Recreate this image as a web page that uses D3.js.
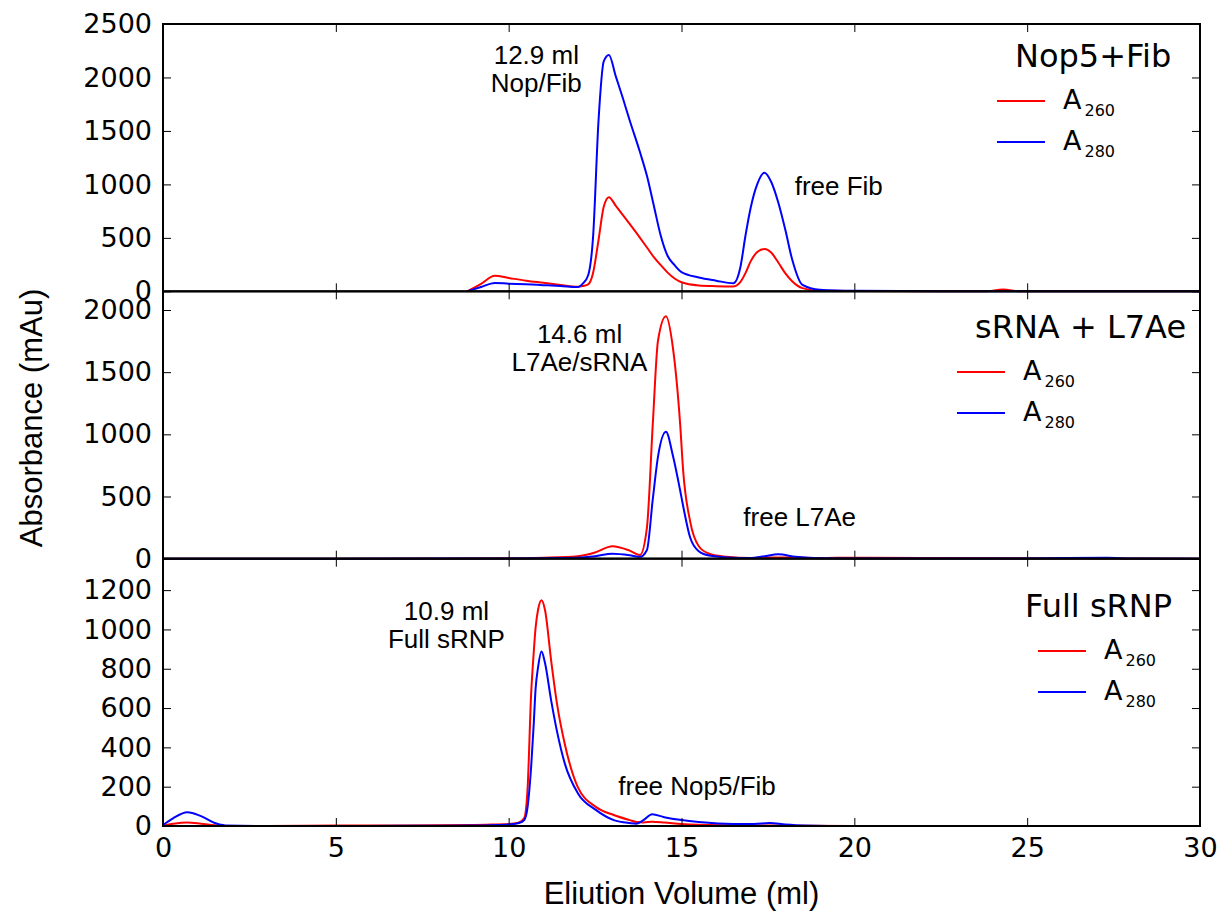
<!DOCTYPE html>
<html>
<head>
<meta charset="utf-8">
<script src="https://cdn.jsdelivr.net/npm/d3@7"></script>
<style>
  body { margin: 0; background: #fff; }
  svg { display: block; }
  .tick text { font-family: "DejaVu Sans", sans-serif; font-size: 27px; fill: #000; }
  .tick line { stroke: #000; stroke-width: 1; }
  .note { font-family: "Liberation Sans", Arial, sans-serif; font-size: 26px; fill: #000; }
  .axis-label { font-family: "Liberation Sans", Arial, sans-serif; font-size: 31px; fill: #000; }
  .legend { font-family: "DejaVu Sans", sans-serif; fill: #000; }
</style>
</head>
<body>
<svg id="chart"></svg>
<script>
// Nop5 + Fib run
const nopFibVol  = [8.8, 9.2, 9.6, 10.0, 10.5, 11.0, 11.5, 12.0, 12.15, 12.3, 12.44, 12.6, 12.75, 12.9, 13.1, 13.3, 13.5, 13.8, 14.0, 14.2, 14.4, 14.6, 14.8, 15.0, 15.5, 16.0, 16.5, 16.7, 16.85, 17.0, 17.2, 17.4, 17.6, 17.8, 18.0, 18.2, 18.5, 19.0, 20.0, 23.8, 24.3, 24.8, 30];
const nopFibA260 = [0, 70, 145, 125, 100, 80, 60, 42, 50, 65, 170, 480, 790, 880, 800, 715, 630, 500, 410, 320, 245, 175, 120, 85, 55, 48, 45, 85, 170, 280, 370, 395, 360, 270, 170, 95, 30, 5, 2, 0, 18, 0, 0];
const nopFibA280 = [0, 40, 78, 72, 66, 58, 50, 40, 75, 150, 500, 1600, 2150, 2210, 2010, 1810, 1600, 1300, 1080, 800, 520, 330, 245, 180, 130, 100, 75, 220, 520, 780, 1010, 1110, 1020, 830, 580, 300, 60, 15, 5, 0, 0, 0, 0];

// sRNA + L7Ae run
const l7aeVol  = [0, 5, 10, 11, 12, 12.5, 13.0, 13.5, 13.8, 14.0, 14.17, 14.32, 14.55, 14.75, 14.96, 15.05, 15.25, 15.5, 15.8, 16.3, 17.0, 17.4, 17.8, 18.3, 19.0, 20, 22, 25, 27.3, 27.8, 30];
const l7aeA260 = [0, 0, 3, 8, 20, 50, 100, 65, 30, 250, 1086, 1754, 1950, 1700, 1086, 700, 300, 100, 40, 15, 5, 8, 10, 8, 5, 8, 5, 3, 2, 2, 0];
const l7aeA280 = [0, 0, 2, 4, 8, 20, 40, 28, 15, 70, 480, 820, 1020, 830, 550, 420, 170, 60, 25, 10, 5, 20, 35, 15, 3, 2, 2, 2, 8, 2, 0];

// Full sRNP run
const srnpVol  = [0, 0.3, 0.7, 1.1, 1.5, 1.8, 3, 5, 7, 9, 9.5, 10.0, 10.3, 10.45, 10.55, 10.65, 10.72, 10.78, 10.85, 10.95, 11.05, 11.23, 11.4, 11.62, 12.0, 12.53, 13.04, 13.5, 13.7, 13.9, 14.15, 14.5, 15.0, 15.5, 16.5, 17.1, 17.55, 18.0, 18.5, 20, 30];
const srnpA260 = [3, 12, 18, 12, 4, 0, 0, 2, 3, 5, 7, 10, 18, 40, 200, 672, 870, 1010, 1100, 1149, 1100, 840, 620, 420, 198, 96, 56, 30, 20, 18, 22, 18, 10, 6, 4, 3, 3, 2, 1, 0, 0];
const srnpA280 = [5, 40, 70, 50, 15, 3, 0, 0, 1, 2, 4, 8, 15, 30, 100, 300, 503, 700, 807, 888, 830, 638, 480, 320, 167, 81, 30, 15, 12, 30, 60, 45, 30, 20, 10, 10, 15, 8, 3, 0, 0];

const xTicks = [0, 5, 10, 15, 20, 25, 30];
const nopFibTicks = [0, 500, 1000, 1500, 2000, 2500];
const l7aeTicks = [0, 500, 1000, 1500, 2000];
const srnpTicks = [0, 200, 400, 600, 800, 1000, 1200];

const width = 1226;
const height = 913;
const plotLeft = 163;
const plotRight = 1200;
const plotTop = 24;
const plotBottom = 826;
const panelH = (plotBottom - plotTop) / 3;

const panels = [
  {vol: nopFibVol, a260: nopFibA260, a280: nopFibA280, yMax: 2500, ticks: nopFibTicks,
    title: 'Nop5+Fib', legend: [1015, 67, 997],
    notes: [[10.8, 2125, '12.9 ml'], [10.8, 1863, 'Nop/Fib'], [19.55, 899, 'free Fib']]},
  {vol: l7aeVol, a260: l7aeA260, a280: l7aeA280, yMax: 2150, ticks: l7aeTicks,
    title: 'sRNA + L7Ae', legend: [975, 338, 957],
    notes: [[12.05, 1737, '14.6 ml'], [12.05, 1512, 'L7Ae/sRNA'], [18.42, 265, 'free L7Ae']]},
  {vol: srnpVol, a260: srnpA260, a280: srnpA280, yMax: 1360, ticks: srnpTicks,
    title: 'Full sRNP', legend: [1025, 617, 1038],
    notes: [[8.2, 1048, '10.9 ml'], [8.2, 905, 'Full sRNP'], [15.45, 158, 'free Nop5/Fib']]}
];

const svg = d3.select('#chart')
  .attr('width', width)
  .attr('height', height);

const xScale = d3.scaleLinear()
  .domain([0, 30])
  .range([plotLeft, plotRight]);

panels.forEach((p, i) => {
  const y0 = plotTop + i * panelH;
  const yScale = d3.scaleLinear()
    .domain([0, p.yMax])
    .range([y0 + panelH, y0]);

  const g = svg.append('g');

  const line = d3.line()
    .x((d) => xScale(d[0]))
    .y((d) => yScale(d[1]))
    .curve(d3.curveMonotoneX);

  g.append('path')
    .datum(d3.zip(p.vol, p.a260))
    .attr('fill', 'none')
    .attr('stroke', '#ff0000')
    .attr('stroke-width', 2)
    .attr('d', line);

  g.append('path')
    .datum(d3.zip(p.vol, p.a280))
    .attr('fill', 'none')
    .attr('stroke', '#0000ff')
    .attr('stroke-width', 2)
    .attr('d', line);

  // ticks on all four sides, pointing in
  g.append('g')
    .attr('transform', `translate(${plotLeft}, 0)`)
    .call(d3.axisLeft(yScale).tickValues(p.ticks).tickFormat(d3.format('d'))
      .tickSizeInner(-8).tickSizeOuter(0).tickPadding(11))
    .call((a) => a.select('.domain').remove());

  g.append('g')
    .attr('transform', `translate(${plotRight}, 0)`)
    .call(d3.axisRight(yScale).tickValues(p.ticks).tickSizeInner(-8).tickSizeOuter(0).tickFormat(''))
    .call((a) => a.select('.domain').remove());

  g.append('g')
    .attr('transform', `translate(0, ${y0})`)
    .call(d3.axisTop(xScale).tickValues(xTicks).tickSizeInner(-8).tickSizeOuter(0).tickFormat(''))
    .call((a) => a.select('.domain').remove());

  g.append('g')
    .attr('transform', `translate(0, ${y0 + panelH})`)
    .call(d3.axisBottom(xScale).tickValues(xTicks).tickSizeInner(-8).tickSizeOuter(0)
      .tickPadding(12).tickFormat(i === 2 ? d3.format('d') : ''))
    .call((a) => a.select('.domain').remove());

  g.append('rect')
    .attr('x', plotLeft)
    .attr('y', y0)
    .attr('width', plotRight - plotLeft)
    .attr('height', panelH)
    .attr('fill', 'none')
    .attr('stroke', '#000')
    .attr('stroke-width', 2);

  // peak annotations
  g.selectAll('.note')
    .data(p.notes)
    .enter()
    .append('text')
    .attr('class', 'note')
    .attr('text-anchor', 'middle')
    .attr('x', (d) => xScale(d[0]))
    .attr('y', (d) => yScale(d[1]))
    .text((d) => d[2]);

  // legend
  const [tx, ty, lx] = p.legend;
  const leg = g.append('g').attr('class', 'legend');
  leg.append('text')
    .attr('x', tx)
    .attr('y', ty)
    .style('font-size', '32px')
    .text(p.title);

  [['#ff0000', '260'], ['#0000ff', '280']].forEach(([color, sub], k) => {
    const ly = ty + 34 + k * 41;
    leg.append('line')
      .attr('x1', lx)
      .attr('x2', lx + 48)
      .attr('y1', ly)
      .attr('y2', ly)
      .attr('stroke', color)
      .attr('stroke-width', 2);
    const t = leg.append('text')
      .attr('x', lx + 66)
      .attr('y', ly + 8)
      .style('font-size', '27px');
    t.append('tspan').text('A');
    t.append('tspan')
      .attr('dx', 3)
      .attr('dy', 7)
      .style('font-size', '16px')
      .text(sub);
  });
});

svg.append('text')
  .attr('class', 'axis-label')
  .attr('text-anchor', 'middle')
  .attr('transform', 'translate(42, 418) rotate(-90)')
  .text('Absorbance (mAu)');

svg.append('text')
  .attr('class', 'axis-label')
  .attr('text-anchor', 'middle')
  .attr('x', (plotLeft + plotRight) / 2)
  .attr('y', 904)
  .text('Eliution Volume (ml)');
</script>
</body>
</html>
